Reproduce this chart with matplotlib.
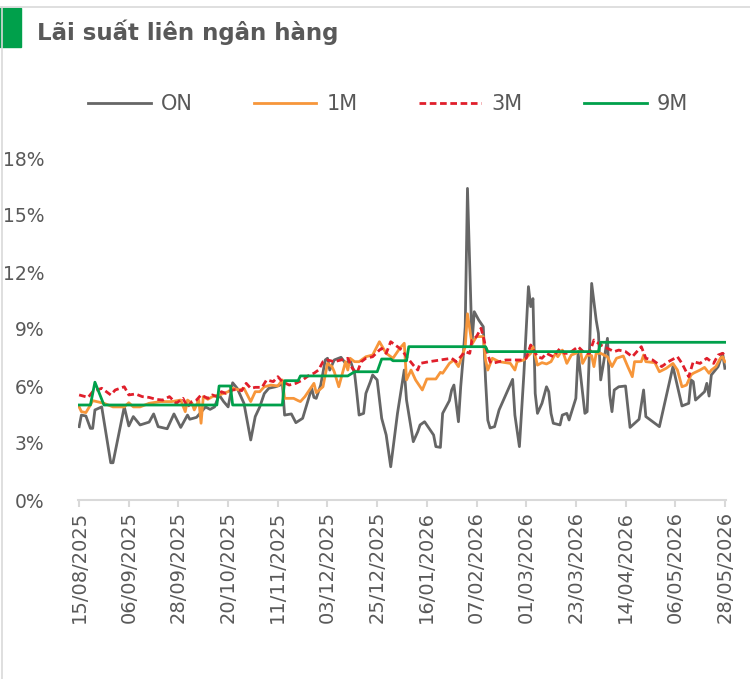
"""Interbank rates (ON / 1M / 3M / 9M) line chart, Aug-2025 to May-2026."""
import matplotlib
matplotlib.use("Agg")
import matplotlib.pyplot as plt  # noqa: E402
import matplotlib.dates as mdates  # noqa: E402
from matplotlib.lines import Line2D  # noqa: E402
from matplotlib.patches import Rectangle  # noqa: E402
from matplotlib.ticker import FuncFormatter  # noqa: E402
import pandas as pd  # noqa: E402

TITLE = "Lãi suất liên ngân hàng"
START = pd.Timestamp("2025-08-15")
N_TICKS = 14
TICK_STEP_DAYS = 22

# day offsets from START and rate (%)
ON_DAY = [0, 1, 3, 5, 6, 7, 10, 12, 14, 15,
          20, 22, 24, 27, 31, 33, 35, 39, 42, 45,
          48, 49, 52, 56, 58, 60, 62, 64, 66, 68,
          70, 73, 76, 78, 80, 82, 84, 87, 89, 90,
          91, 94, 96, 99, 101, 103, 104, 105, 107, 109,
          110, 111, 113, 116, 118, 120, 122, 123, 124, 126,
          127, 129, 130, 132, 134, 136, 138, 141, 144, 145,
          148, 150, 151, 153, 155, 157, 158, 160, 161, 164,
          165, 166, 168, 169, 170, 171, 172, 174, 175, 177,
          179, 180, 181, 182, 184, 186, 192, 193, 195, 197,
          199, 200, 201, 202, 203, 205, 207, 208, 209, 210,
          213, 214, 216, 217, 220, 221, 222, 224, 225, 226,
          227, 229, 230, 231, 232, 234, 235, 236, 237, 239,
          242, 244, 248, 250, 251, 257, 263, 267, 270, 271,
          272, 273, 277, 278, 279, 280, 283, 285, 286]
ON = [3.86, 4.47, 4.42, 3.77, 3.77, 4.74, 4.9, 3.42, 1.96, 1.96,
      4.9, 3.9, 4.39, 3.95, 4.1, 4.53, 3.86, 3.75, 4.53, 3.82,
      4.47, 4.25, 4.35, 4.9, 4.77, 4.9, 5.53, 5.18, 4.9, 6.17,
      5.88, 5.09, 3.16, 4.39, 4.9, 5.6, 5.88, 5.96, 6.05, 6.17,
      4.47, 4.53, 4.07, 4.3, 5.09, 5.88, 5.4, 5.35, 6.05, 7.37,
      7.46, 6.84, 7.37, 7.51, 7.19, 7.37, 6.67, 5.61, 4.47, 4.56,
      5.61, 6.23, 6.58, 6.32, 4.3, 3.42, 1.75, 4.56, 6.84, 5.26,
      3.07, 3.6, 3.95, 4.12, 3.77, 3.42, 2.81, 2.77, 4.56, 5.23,
      5.79, 6.05, 4.12, 5.96, 7.37, 9.12, 16.4, 8.25, 9.91, 9.47,
      9.12, 6.32, 4.2, 3.79, 3.86, 4.74, 6.35, 4.47, 2.81, 6.67,
      11.23, 10.18, 10.6, 5.61, 4.56, 5.09, 5.96, 5.7, 4.56, 4.04,
      3.95, 4.47, 4.56, 4.21, 5.35, 7.72, 6.67, 4.56, 4.65, 7.72,
      11.4, 9.47, 8.77, 6.32, 7.02, 8.51, 5.53, 4.65, 5.79, 5.96,
      6.0, 3.82, 4.25, 5.79, 4.39, 3.86, 7.02, 4.95, 5.09, 6.32,
      6.23, 5.26, 5.7, 6.14, 5.47, 6.58, 7.02, 7.72, 6.93]

M1_DAY = [0, 1, 3, 5, 6, 11, 15, 20, 22, 24,
          27, 31, 36, 41, 45, 47, 48, 50, 51, 53,
          54, 55, 57, 59, 62, 64, 66, 68, 71, 73,
          76, 78, 80, 82, 85, 88, 90, 91, 95, 97,
          98, 100, 104, 105, 108, 110, 112, 113, 115, 118,
          119, 120, 121, 122, 124, 127, 130, 133, 136, 139,
          142, 144, 145, 147, 149, 152, 154, 158, 160, 161,
          164, 166, 168, 170, 171, 172, 174, 176, 179, 180,
          181, 183, 186, 191, 193, 194, 197, 200, 201, 203,
          205, 207, 209, 211, 212, 214, 216, 218, 220, 222,
          223, 225, 227, 228, 229, 231, 234, 236, 238, 241,
          243, 245, 246, 249, 250, 251, 255, 257, 260, 263,
          265, 267, 269, 271, 272, 275, 277, 279, 280, 282,
          284, 285, 286]
M1 = [4.9, 4.65, 4.6, 5.0, 5.23, 5.09, 4.9, 4.9, 5.12, 4.9,
      4.9, 5.09, 5.18, 5.18, 5.26, 4.65, 5.26, 5.09, 4.74, 5.26,
      4.04, 5.44, 5.3, 5.44, 5.53, 5.61, 5.7, 5.88, 5.79, 5.88,
      5.18, 5.7, 5.7, 5.96, 6.05, 6.0, 6.32, 5.35, 5.35, 5.23,
      5.18, 5.44, 6.14, 5.65, 5.96, 7.19, 7.02, 6.75, 5.96, 7.28,
      6.84, 7.46, 7.37, 7.28, 7.28, 7.54, 7.63, 8.33, 7.72, 7.46,
      7.98, 8.25, 6.32, 6.84, 6.32, 5.79, 6.37, 6.37, 6.72, 6.67,
      7.19, 7.37, 7.02, 7.72, 8.07, 9.8, 8.2, 8.6, 8.6, 7.37,
      6.84, 7.46, 7.28, 7.19, 6.84, 7.28, 7.37, 7.72, 8.07, 7.1,
      7.23, 7.16, 7.28, 7.72, 7.54, 7.89, 7.19, 7.63, 7.72, 7.89,
      7.19, 7.63, 7.6, 7.02, 7.72, 7.72, 7.54, 7.02, 7.46, 7.58,
      7.02, 6.49, 7.28, 7.28, 7.63, 7.28, 7.23, 6.75, 6.93, 7.19,
      6.84, 5.96, 6.05, 6.58, 6.67, 6.84, 6.98, 6.67, 6.84, 7.02,
      7.46, 7.54, 7.28]

M3_DAY = [0, 4, 6, 10, 14, 16, 20, 22, 25, 28,
          31, 34, 37, 40, 43, 46, 48, 50, 52, 54,
          57, 59, 61, 63, 65, 68, 70, 72, 74, 76,
          78, 81, 83, 86, 88, 90, 93, 96, 99, 102,
          104, 106, 108, 110, 113, 116, 119, 121, 123, 125,
          127, 130, 133, 134, 136, 138, 141, 143, 145, 148,
          150, 151, 155, 160, 165, 167, 169, 171, 173, 174,
          176, 178, 179, 180, 182, 183, 186, 189, 192, 196,
          198, 200, 203, 205, 207, 210, 213, 215, 217, 221,
          224, 226, 228, 231, 234, 237, 239, 242, 245, 249,
          251, 254, 258, 261, 265, 267, 270, 272, 275, 278,
          281, 283, 285, 286]
M3 = [5.53, 5.4, 5.7, 5.88, 5.53, 5.79, 5.96, 5.53, 5.58, 5.44,
      5.4, 5.3, 5.26, 5.44, 5.09, 5.35, 4.9, 5.18, 5.26, 5.53,
      5.35, 5.53, 5.44, 5.7, 5.61, 5.79, 5.82, 5.75, 6.14, 5.88,
      5.93, 5.93, 6.32, 6.23, 6.49, 6.23, 6.05, 6.14, 6.32, 6.58,
      6.67, 6.84, 7.28, 7.37, 7.28, 7.37, 7.46, 6.93, 6.67, 7.28,
      7.46, 7.54, 7.89, 7.98, 7.72, 8.33, 8.07, 7.89, 7.54, 7.1,
      6.84, 7.19, 7.28, 7.37, 7.46, 7.28, 7.54, 7.81, 7.72, 8.42,
      8.6, 9.04, 8.6, 8.07, 7.28, 7.19, 7.28, 7.37, 7.37, 7.37,
      7.46, 8.16, 7.54, 7.46, 7.72, 7.54, 7.98, 7.72, 7.72, 8.07,
      7.72, 7.72, 8.42, 8.16, 7.98, 7.81, 7.89, 7.81, 7.54, 8.07,
      7.46, 7.37, 7.02, 7.28, 7.54, 7.19, 6.49, 7.28, 7.19, 7.46,
      7.19, 7.63, 7.72, 7.63]

M9_DAY = [0, 5, 7, 11, 61, 62, 67, 68, 90, 91, 97, 98, 119, 122, 132,
          134, 138, 139, 145, 146, 180, 181, 230, 231, 286]
M9 = [5.0, 5.0, 6.2, 5.0, 5.0, 6.0, 6.0, 5.0, 5.0, 6.28, 6.28, 6.53, 6.53,
      6.75, 6.75, 7.42, 7.42, 7.33, 7.33, 8.07, 8.07, 7.81, 7.81, 8.3, 8.3]

SERIES = [("ON", ON_DAY, ON, "#666666", "-"),
          ("1M", M1_DAY, M1, "#F7963A", "-"),
          ("3M", M3_DAY, M3, "#E01F2B", (0, (2.4, 1.3))),
          ("9M", M9_DAY, M9, "#00A04B", "-")]

TXT = "#595959"
AXIS_GREY = "#d9d9d9"


def to_dates(days):
    return START + pd.to_timedelta(days, unit="D")


def main():
    plt.rcParams["font.family"] = ["DejaVu Sans"]
    W, H = 750, 679
    fig = plt.figure(figsize=(W / 100, H / 100), dpi=100)
    ax = fig.add_axes([78 / W, 1 - 500 / H, (726 - 78) / W, (500 - 158) / H])

    for name, days, vals, color, ls in SERIES:
        ax.plot(to_dates(days), vals, color=color, lw=2.0, ls=ls, label=name,
                solid_joinstyle="round")

    ticks = pd.date_range(START, periods=N_TICKS, freq=f"{TICK_STEP_DAYS}D")
    ax.set_xticks(ticks)
    ax.xaxis.set_major_formatter(mdates.DateFormatter("%d/%m/%Y"))
    ax.set_xlim(START - pd.Timedelta(hours=12), ticks[-1] + pd.Timedelta(hours=12))
    ax.set_ylim(0, 18)
    ax.set_yticks(range(0, 19, 3))
    ax.yaxis.set_major_formatter(FuncFormatter(lambda v, _: f"{v:.0f}%"))

    for s in ("top", "right", "left"):
        ax.spines[s].set_visible(False)
    ax.spines["bottom"].set_color(AXIS_GREY)
    ax.spines["bottom"].set_linewidth(1.5)
    ax.tick_params(axis="y", length=0, pad=24, labelsize=13.5, labelcolor=TXT)
    ax.tick_params(axis="x", length=5, width=1.5, color=AXIS_GREY, pad=3,
                   labelsize=14, labelcolor=TXT, labelrotation=90)

    # frame lines and title block
    fig.add_artist(Line2D([0, 1], [1 - 7 / H] * 2, color=AXIS_GREY, lw=1.2))
    fig.add_artist(Line2D([1.5 / W] * 2, [0, 1 - 7 / H], color=AXIS_GREY, lw=1.2))
    fig.add_artist(Rectangle((0, 1 - 47 / H), 21 / W, 39 / H,
                             transform=fig.transFigure, color="#00A04B"))
    fig.text(37 / W, 1 - 32 / H, TITLE, va="center", ha="left", fontsize=16.5,
             fontweight="bold", color=TXT)

    fig.legend(loc="center left", bbox_to_anchor=(88 / W, 1 - 104 / H), ncol=4,
               frameon=False, fontsize=15, labelcolor=TXT, handlelength=3.0,
               handletextpad=0.48, columnspacing=2.95, borderpad=0, borderaxespad=0)

    fig.savefig("out.png", dpi=100)


if __name__ == "__main__":
    main()
